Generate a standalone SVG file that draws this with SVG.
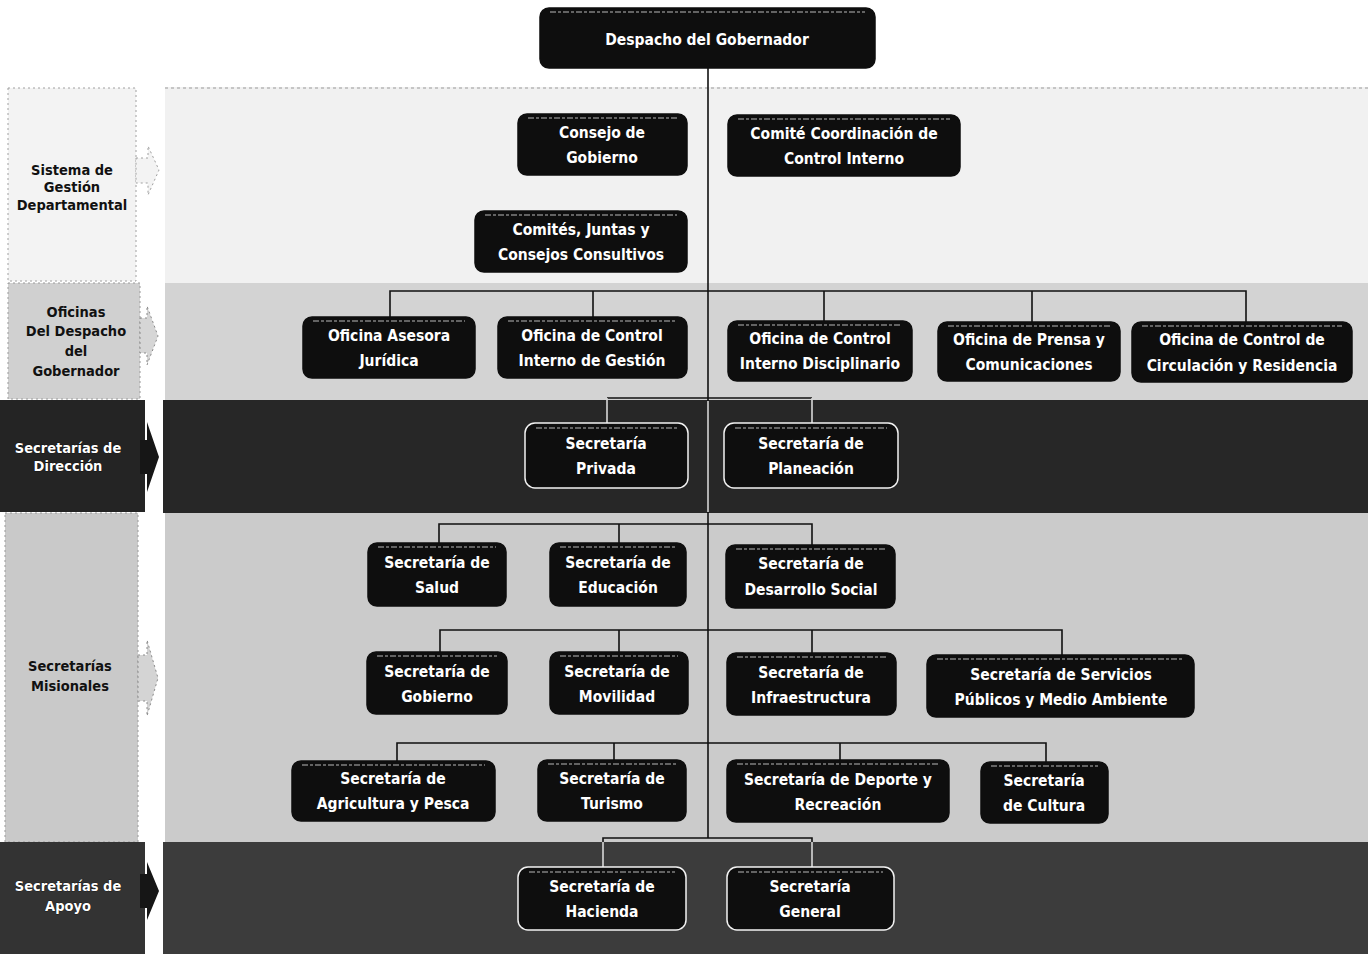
<svg xmlns="http://www.w3.org/2000/svg" width="1368" height="954" viewBox="0 0 1368 954">
<defs>
<style>
.bg{fill:#ffffff}
.node rect.box{fill:#0e0e0e;stroke:#0e0e0e;stroke-width:1.5}
.node.dk rect.box{stroke:#f2f2f2}
.node line.hl{stroke:#b8b8b8;stroke-width:1.2;stroke-dasharray:6 2 3 2}
.node text{fill:#ffffff;font-family:"Liberation Sans Narrow","DejaVu Sans Condensed","Liberation Sans",sans-serif;font-weight:bold;font-size:15.5px;text-anchor:middle}
.lbl text{font-family:"Liberation Sans Narrow","DejaVu Sans Condensed","Liberation Sans",sans-serif;font-weight:bold;font-size:14.5px;text-anchor:middle}
.lbl.lt text{fill:#111111}
.lbl.dk text{fill:#ffffff;stroke:#000;stroke-width:0.6;paint-order:stroke}
.conn path{fill:none;stroke:#111111;stroke-width:1.6}
.conn path.lt{stroke:#d8d8d8}
</style>
</defs>
<rect class="bg" x="0" y="0" width="1368" height="954"/>

<g id="bands">
<rect x="165" y="87" width="1203" height="196" fill="#f1f1f1"/>
<line x1="165" y1="88" x2="1368" y2="88" stroke="#9a9a9a" stroke-width="1" stroke-dasharray="3 3"/>
<rect x="165" y="283" width="1203" height="117" fill="#d3d3d3"/>
<rect x="163" y="400" width="1205" height="113" fill="#272727"/>
<rect x="165" y="513" width="1203" height="329" fill="#cbcbcb"/>
<rect x="163" y="842" width="1205" height="112" fill="#3c3c3c"/>
</g>

<g id="label-sistema" class="lbl lt">
<rect x="8" y="88" width="128" height="193" fill="#f3f3f3" stroke="#a0a0a0" stroke-width="1" stroke-dasharray="2 3"/>
<path d="M136,158 H148 V146 L159,170 L148,195 V183 H136 Z" fill="#f3f3f3" stroke="#a0a0a0" stroke-width="1" stroke-dasharray="2 3"/>
<text x="72" y="175">Sistema de</text>
<text x="72" y="192">Gestión</text>
<text x="72" y="210">Departamental</text>
</g>

<g id="label-oficinas" class="lbl lt">
<rect x="8" y="283" width="132" height="116" fill="#d0d0d0" stroke="#9a9a9a" stroke-width="1" stroke-dasharray="2 3"/>
<path d="M140,318 H147 V306 L158,336 L147,365 V353 H140 Z" fill="#d6d6d6" stroke="#8a8a8a" stroke-width="1" stroke-dasharray="2 3"/>
<text x="76" y="317">Oficinas</text>
<text x="76" y="336">Del Despacho</text>
<text x="76" y="356">del</text>
<text x="76" y="376">Gobernador</text>
</g>

<g id="label-direccion" class="lbl dk">
<rect x="0" y="400" width="145" height="112" fill="#242424"/>
<path d="M140,440 H147 V422 L159,457 L147,492 V474 H140 Z" fill="#161616"/>
<text x="68" y="453">Secretarías de</text>
<text x="68" y="471">Dirección</text>
</g>

<g id="label-misionales" class="lbl lt">
<rect x="5" y="513" width="133" height="329" fill="#c9c9c9" stroke="#9a9a9a" stroke-width="1" stroke-dasharray="2 3"/>
<path d="M138,655 H147 V640 L158,678 L147,716 V701 H138 Z" fill="#d4d4d4" stroke="#8a8a8a" stroke-width="1" stroke-dasharray="2 3"/>
<text x="70" y="671">Secretarías</text>
<text x="70" y="691">Misionales</text>
</g>

<g id="label-apoyo" class="lbl dk">
<rect x="0" y="842" width="145" height="112" fill="#333333"/>
<path d="M140,874 H147 V862 L159,891 L147,920 V908 H140 Z" fill="#161616"/>
<text x="68" y="891">Secretarías de</text>
<text x="68" y="911">Apoyo</text>
</g>

<g id="connectors" class="conn">
<path d="M708,68 V838"/>
<path class="lt" d="M708,401 V512"/>
<path d="M390,318 V291 H1246 V322 M593,291 V317 M824,291 V321 M1032,291 V322"/>
<path d="M607,398 H812"/>
<path class="lt" d="M607,398 V423 M812,398 V423"/>
<path d="M439,543 V524 H812 V545 M619,524 V543"/>
<path d="M440,652 V630 H1062 V655 M619,630 V652 M812,630 V653"/>
<path d="M397,761 V743 H1046 V762 M614,743 V760 M840,743 V760"/>
<path d="M603,842 V838 H812 V842"/>
<path class="lt" d="M603,842 V867 M812,842 V867"/>
</g>

<g id="n-despacho" class="node">
<rect class="box" x="540" y="8" width="335" height="60" rx="9"/>
<line class="hl" x1="550" y1="12" x2="865" y2="12"/>
<text x="707" y="45">Despacho del Gobernador</text>
</g>
<g id="n-consejo" class="node">
<rect class="box" x="518" y="114" width="169" height="61" rx="9"/>
<line class="hl" x1="528" y1="118" x2="677" y2="118"/>
<text x="602" y="138">Consejo de</text>
<text x="602" y="163">Gobierno</text>
</g>
<g id="n-comite" class="node">
<rect class="box" x="728" y="115" width="232" height="61" rx="9"/>
<line class="hl" x1="738" y1="119" x2="950" y2="119"/>
<text x="844" y="139">Comité Coordinación de</text>
<text x="844" y="164">Control Interno</text>
</g>
<g id="n-comites" class="node">
<rect class="box" x="475" y="211" width="212" height="61" rx="9"/>
<line class="hl" x1="485" y1="215" x2="677" y2="215"/>
<text x="581" y="235">Comités, Juntas y</text>
<text x="581" y="260">Consejos Consultivos</text>
</g>

<g id="n-asesora" class="node">
<rect class="box" x="303" y="317" width="172" height="61" rx="9"/>
<line class="hl" x1="313" y1="321" x2="465" y2="321"/>
<text x="389" y="341">Oficina Asesora</text>
<text x="389" y="366">Jurídica</text>
</g>
<g id="n-gestion" class="node">
<rect class="box" x="498" y="317" width="189" height="61" rx="9"/>
<line class="hl" x1="508" y1="321" x2="677" y2="321"/>
<text x="592" y="341">Oficina de Control</text>
<text x="592" y="366">Interno de Gestión</text>
</g>
<g id="n-disciplinario" class="node">
<rect class="box" x="728" y="321" width="184" height="60" rx="9"/>
<line class="hl" x1="738" y1="325" x2="902" y2="325"/>
<text x="820" y="344">Oficina de Control</text>
<text x="820" y="369">Interno Disciplinario</text>
</g>
<g id="n-prensa" class="node">
<rect class="box" x="938" y="322" width="182" height="59" rx="9"/>
<line class="hl" x1="948" y1="326" x2="1110" y2="326"/>
<text x="1029" y="345">Oficina de Prensa y</text>
<text x="1029" y="370">Comunicaciones</text>
</g>
<g id="n-circulacion" class="node">
<rect class="box" x="1132" y="322" width="220" height="60" rx="9"/>
<line class="hl" x1="1142" y1="326" x2="1342" y2="326"/>
<text x="1242" y="345">Oficina de Control de</text>
<text x="1242" y="371">Circulación y Residencia</text>
</g>

<g id="n-privada" class="node dk">
<rect class="box" x="525" y="423" width="163" height="65" rx="10"/>
<line class="hl" x1="536" y1="428" x2="677" y2="428"/>
<text x="606" y="449">Secretaría</text>
<text x="606" y="474">Privada</text>
</g>
<g id="n-planeacion" class="node dk">
<rect class="box" x="724" y="423" width="174" height="65" rx="10"/>
<line class="hl" x1="735" y1="428" x2="887" y2="428"/>
<text x="811" y="449">Secretaría de</text>
<text x="811" y="474">Planeación</text>
</g>

<g id="n-salud" class="node">
<rect class="box" x="368" y="543" width="138" height="63" rx="9"/>
<line class="hl" x1="378" y1="547" x2="496" y2="547"/>
<text x="437" y="568">Secretaría de</text>
<text x="437" y="593">Salud</text>
</g>
<g id="n-educacion" class="node">
<rect class="box" x="550" y="543" width="136" height="63" rx="9"/>
<line class="hl" x1="560" y1="547" x2="676" y2="547"/>
<text x="618" y="568">Secretaría de</text>
<text x="618" y="593">Educación</text>
</g>
<g id="n-desarrollo" class="node">
<rect class="box" x="726" y="545" width="169" height="63" rx="9"/>
<line class="hl" x1="736" y1="549" x2="885" y2="549"/>
<text x="811" y="569">Secretaría de</text>
<text x="811" y="595">Desarrollo Social</text>
</g>

<g id="n-gobierno" class="node">
<rect class="box" x="367" y="652" width="140" height="62" rx="9"/>
<line class="hl" x1="377" y1="656" x2="497" y2="656"/>
<text x="437" y="677">Secretaría de</text>
<text x="437" y="702">Gobierno</text>
</g>
<g id="n-movilidad" class="node">
<rect class="box" x="550" y="652" width="138" height="62" rx="9"/>
<line class="hl" x1="560" y1="656" x2="678" y2="656"/>
<text x="617" y="677">Secretaría de</text>
<text x="617" y="702">Movilidad</text>
</g>
<g id="n-infraestructura" class="node">
<rect class="box" x="727" y="653" width="169" height="62" rx="9"/>
<line class="hl" x1="737" y1="657" x2="886" y2="657"/>
<text x="811" y="678">Secretaría de</text>
<text x="811" y="703">Infraestructura</text>
</g>
<g id="n-servicios" class="node">
<rect class="box" x="927" y="655" width="267" height="62" rx="9"/>
<line class="hl" x1="937" y1="659" x2="1184" y2="659"/>
<text x="1061" y="680">Secretaría de Servicios</text>
<text x="1061" y="705">Públicos y Medio Ambiente</text>
</g>

<g id="n-agricultura" class="node">
<rect class="box" x="292" y="761" width="203" height="60" rx="9"/>
<line class="hl" x1="302" y1="765" x2="485" y2="765"/>
<text x="393" y="784">Secretaría de</text>
<text x="393" y="809">Agricultura y Pesca</text>
</g>
<g id="n-turismo" class="node">
<rect class="box" x="538" y="760" width="148" height="61" rx="9"/>
<line class="hl" x1="548" y1="764" x2="676" y2="764"/>
<text x="612" y="784">Secretaría de</text>
<text x="612" y="809">Turismo</text>
</g>
<g id="n-deporte" class="node">
<rect class="box" x="727" y="760" width="222" height="62" rx="9"/>
<line class="hl" x1="737" y1="764" x2="939" y2="764"/>
<text x="838" y="785">Secretaría de Deporte y</text>
<text x="838" y="810">Recreación</text>
</g>
<g id="n-cultura" class="node">
<rect class="box" x="981" y="762" width="127" height="61" rx="9"/>
<line class="hl" x1="991" y1="766" x2="1098" y2="766"/>
<text x="1044" y="786">Secretaría</text>
<text x="1044" y="811">de Cultura</text>
</g>

<g id="n-hacienda" class="node dk">
<rect class="box" x="518" y="867" width="168" height="63" rx="10"/>
<line class="hl" x1="529" y1="872" x2="675" y2="872"/>
<text x="602" y="892">Secretaría de</text>
<text x="602" y="917">Hacienda</text>
</g>
<g id="n-general" class="node dk">
<rect class="box" x="727" y="867" width="167" height="63" rx="10"/>
<line class="hl" x1="738" y1="872" x2="883" y2="872"/>
<text x="810" y="892">Secretaría</text>
<text x="810" y="917">General</text>
</g>
</svg>
